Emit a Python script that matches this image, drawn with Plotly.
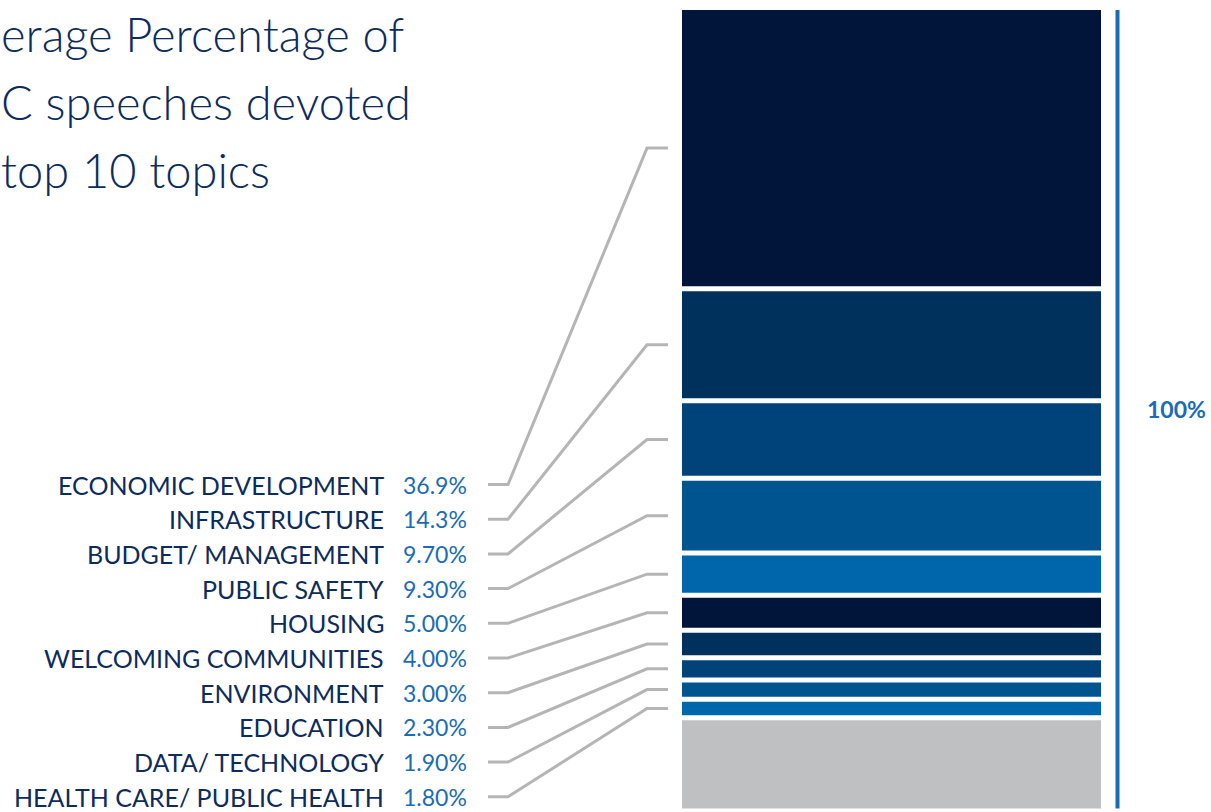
import plotly.graph_objects as go

# ---------------- data ----------------
topics = ["ECONOMIC DEVELOPMENT", "INFRASTRUCTURE", "BUDGET/ MANAGEMENT", "PUBLIC SAFETY",
          "HOUSING", "WELCOMING COMMUNITIES", "ENVIRONMENT", "EDUCATION",
          "DATA/ TECHNOLOGY", "HEALTH CARE/ PUBLIC HEALTH"]
shares = [36.9, 14.3, 9.7, 9.3, 5.0, 4.0, 3.0, 2.3, 1.9, 1.8]
share_labels = ["36.9%", "14.3%", "9.70%", "9.30%", "5.00%", "4.00%", "3.00%",
                "2.30%", "1.90%", "1.80%"]
total_label = "100%"
# title as visible in the (cropped) reference
title_lines = ["erage Percentage of", "C speeches devoted", "top 10 topics"]

other_share = round(100 - sum(shares), 1)   # remaining (grey) part of the speeches

# ---------------- style / layout ----------------
W, H = 1211, 812
PX = 7.485            # pixels per percentage point
TOP = 10              # top of bar in px
GAP = 5 / PX          # white gap between segments (in % units)
seg_colors = ["#011439", "#00305c", "#00437a", "#005590", "#0066ab",
              "#011439", "#00305c", "#00437a", "#005590", "#0066ab", "#bfc0c2"]
NAVY = "#0d2c5c"
BLUE = "#1a6cb4"
GREY_LINE = "#b5b5b5"
FONT = "Lato"

def py(px):
    """convert a vertical pixel position to the y-axis (percentage) units"""
    return (px - TOP) / PX

values = shares + [other_share]
bases = []
run = 0.0
for i, v in enumerate(values):
    bases.append(run + i * GAP)
    run += v
extent = run + (len(values) - 1) * GAP

BAR_X, BAR_W = 891.5, 419

fig = go.Figure()
fig.add_trace(go.Bar(
    x=[BAR_X] * len(values), y=values, base=bases, width=BAR_W,
    marker=dict(color=seg_colors, line=dict(width=0)),
    hoverinfo="skip", showlegend=False,
))

annotations = []
ROW0, ROW_STEP = 484.5, 34.7
for i, (t, s, lab) in enumerate(zip(topics, shares, share_labels)):
    row = py(ROW0 + i * ROW_STEP)
    center = bases[i] + s / 2
    fig.add_trace(go.Scatter(
        x=[488, 508, 647, 668], y=[row, row, center, center],
        mode="lines", line=dict(color=GREY_LINE, width=3),
        hoverinfo="skip", showlegend=False,
    ))
    annotations.append(dict(x=386, y=row, xref="x", yref="y", text=t, showarrow=False,
                            xanchor="right", yanchor="middle",
                            font=dict(family=FONT, size=25, color=NAVY)))
    annotations.append(dict(x=401, y=row, xref="x", yref="y", text=lab, showarrow=False,
                            xanchor="left", yanchor="middle",
                            font=dict(family=FONT, size=23, color=BLUE)))

annotations.append(dict(x=1176, y=extent / 2, xref="x", yref="y", text=f"<b>{total_label}</b>",
                        showarrow=False, xanchor="center", yanchor="middle",
                        font=dict(family=FONT, size=23, color=BLUE)))

title_y = [34, 102, 170]
for line, yp in zip(title_lines, title_y):
    annotations.append(dict(x=0, y=py(yp), xref="x", yref="y", text=line, showarrow=False,
                            xanchor="left", yanchor="middle", borderpad=0,
                            font=dict(family=FONT, size=47, color=NAVY, weight=300)))

fig.add_shape(type="line", xref="x", yref="y", x0=1117.5, x1=1117.5, y0=0, y1=extent,
              line=dict(color=BLUE, width=4))

fig.update_layout(
    width=W, height=H, margin=dict(l=0, r=0, t=0, b=0),
    paper_bgcolor="white", plot_bgcolor="white",
    barmode="overlay",
    xaxis=dict(range=[0, W], visible=False, fixedrange=True),
    yaxis=dict(range=[py(H), py(0)], visible=False, fixedrange=True),
    annotations=annotations,
)

fig.write_html("out.html", config={"displayModeBar": False},
               post_script="document.body.style.margin='0';document.body.style.overflow='hidden';")
